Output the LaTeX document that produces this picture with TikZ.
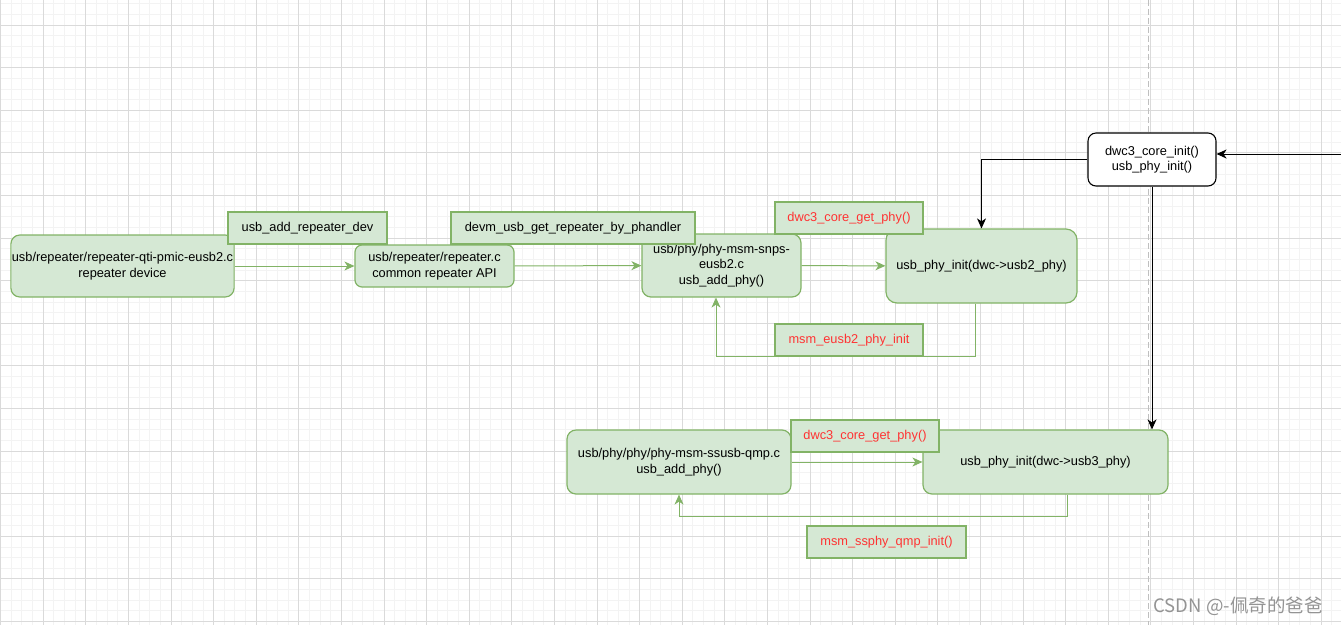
\documentclass[tikz,border=0pt]{standalone}
\usepackage{fontspec}
\setmainfont{Liberation Sans}
\newfontfamily\cjk{Noto Sans CJK SC}
\usetikzlibrary{arrows.meta}
\definecolor{boxfill}{HTML}{D5E8D4}
\definecolor{boxline}{HTML}{82B366}
\definecolor{fnred}{HTML}{FF3333}
\definecolor{gridminor}{HTML}{F3F3F3}
\definecolor{gridmajor}{HTML}{DADADA}
\tikzset{
  filebox/.style={draw=boxline, fill=boxfill, line width=1.2pt, rounded corners=9pt, align=center, inner sep=1pt},
  callbox/.style={draw=boxline, fill=boxfill, line width=1.2pt, align=center, inner sep=1pt, text=fnred},
  corebox/.style={draw=black, fill=white, line width=1.1pt, rounded corners=8pt, align=center, inner sep=1pt},
  greenflow/.style={draw=boxline, line width=1pt, -{Stealth[length=10pt, width=9pt, inset=3pt]}},
  blackflow/.style={draw=black, line width=1pt, -{Stealth[length=10pt, width=9pt, inset=3pt]}}
}
\begin{document}
\begin{tikzpicture}[x=1pt, y=-1pt, font=\fontsize{12.8}{15.5}\selectfont]
  \useasboundingbox (0,0) rectangle (1341,625);
  \fill[white] (0,0) rectangle (1341,625);
  \begin{scope}
    \clip (0,0) rectangle (1341,625);
    \foreach \i in {0,...,126}
      \draw[gridminor, line width=0.7pt] ({0.5+10.65*\i},0) -- ++(0,625);
    \foreach \j in {0,...,59}
      \draw[gridminor, line width=0.7pt] (0,{3.7+10.65*\j}) -- ++(1341,0);
    \foreach \i in {0,...,31}
      \draw[gridmajor, line width=0.8pt] ({0.5+42.6*\i},0) -- ++(0,625);
    \foreach \j in {0,...,14}
      \draw[gridmajor, line width=0.8pt] (0,{25+42.6*\j}) -- ++(1341,0);
  \end{scope}
  \draw[black!25, line width=1pt, dash pattern=on 6pt off 3pt] (1148,0) -- (1148,625);

  \node[filebox, minimum width=223, minimum height=62] (repdev) at (122.5,266)
    {usb/repeater/repeater-qti-pmic-eusb2.c\\repeater device};
  \node[filebox, rounded corners=7pt, minimum width=159, minimum height=42] (repapi) at (434.5,266)
    {usb/repeater/repeater.c\\common repeater API};
  \node[filebox, minimum width=159, minimum height=63] (snps) at (721.5,265.5)
    {usb/phy/phy-msm-snps-\\eusb2.c\\usb\_add\_phy()};
  \node[filebox, rounded corners=11pt, minimum width=191, minimum height=74] (initusb2) at (981.5,266)
    {usb\_phy\_init(dwc->usb2\_phy)};
  \node[corebox, minimum width=128, minimum height=53] (core) at (1152,159.5)
    {dwc3\_core\_init()\\usb\_phy\_init()};
  \node[filebox, minimum width=224, minimum height=64] (qmp) at (679,462)
    {usb/phy/phy/phy-msm-ssusb-qmp.c\\usb\_add\_phy()};
  \node[filebox, minimum width=245, minimum height=64] (initusb3) at (1045.5,462)
    {usb\_phy\_init(dwc->usb3\_phy)};

  \node[callbox, text=black, minimum width=159, minimum height=32] (adddev) at (307.5,228) {usb\_add\_repeater\_dev};
  \node[callbox, text=black, minimum width=244, minimum height=32] (getrep) at (573,228) {devm\_usb\_get\_repeater\_by\_phandler};
  \node[callbox, minimum width=148, minimum height=32] (getphy2) at (849,218) {dwc3\_core\_get\_phy()};
  \node[callbox, minimum width=148, minimum height=32] (eusbinit) at (849,340) {msm\_eusb2\_phy\_init};
  \node[callbox, minimum width=148, minimum height=32] (getphy3) at (865,436) {dwc3\_core\_get\_phy()};
  \node[callbox, minimum width=159, minimum height=32] (qmpinit) at (886.5,542) {msm\_ssphy\_qmp\_init()};

  \draw[greenflow] (repdev) -- (repapi);
  \draw[greenflow] (repapi) -- (snps);
  \draw[greenflow] (snps) -- (initusb2);
  \draw[greenflow] (initusb2.south -| 975,0) -- (975,356) -- (716,356) -- (716,0 |- snps.south);
  \draw[greenflow] (qmp) -- (initusb3);
  \draw[greenflow] (initusb3.south -| 1067,0) -- (1067,516) -- (qmp.south |- 0,516) -- (qmp.south);

  \coordinate (caller) at (1341,154);
  \draw[blackflow] (caller) -- (caller -| core.east);
  \draw[blackflow] (core.west) -| (initusb2.north);
  \draw[blackflow] (core.south) -- (core.south |- initusb3.north);

  \node[text=black!42, font=\cjk\fontsize{18.5}{20}\selectfont] (mark) at (1238,606) {CSDN @-佩奇的爸爸};
\end{tikzpicture}
\end{document}
